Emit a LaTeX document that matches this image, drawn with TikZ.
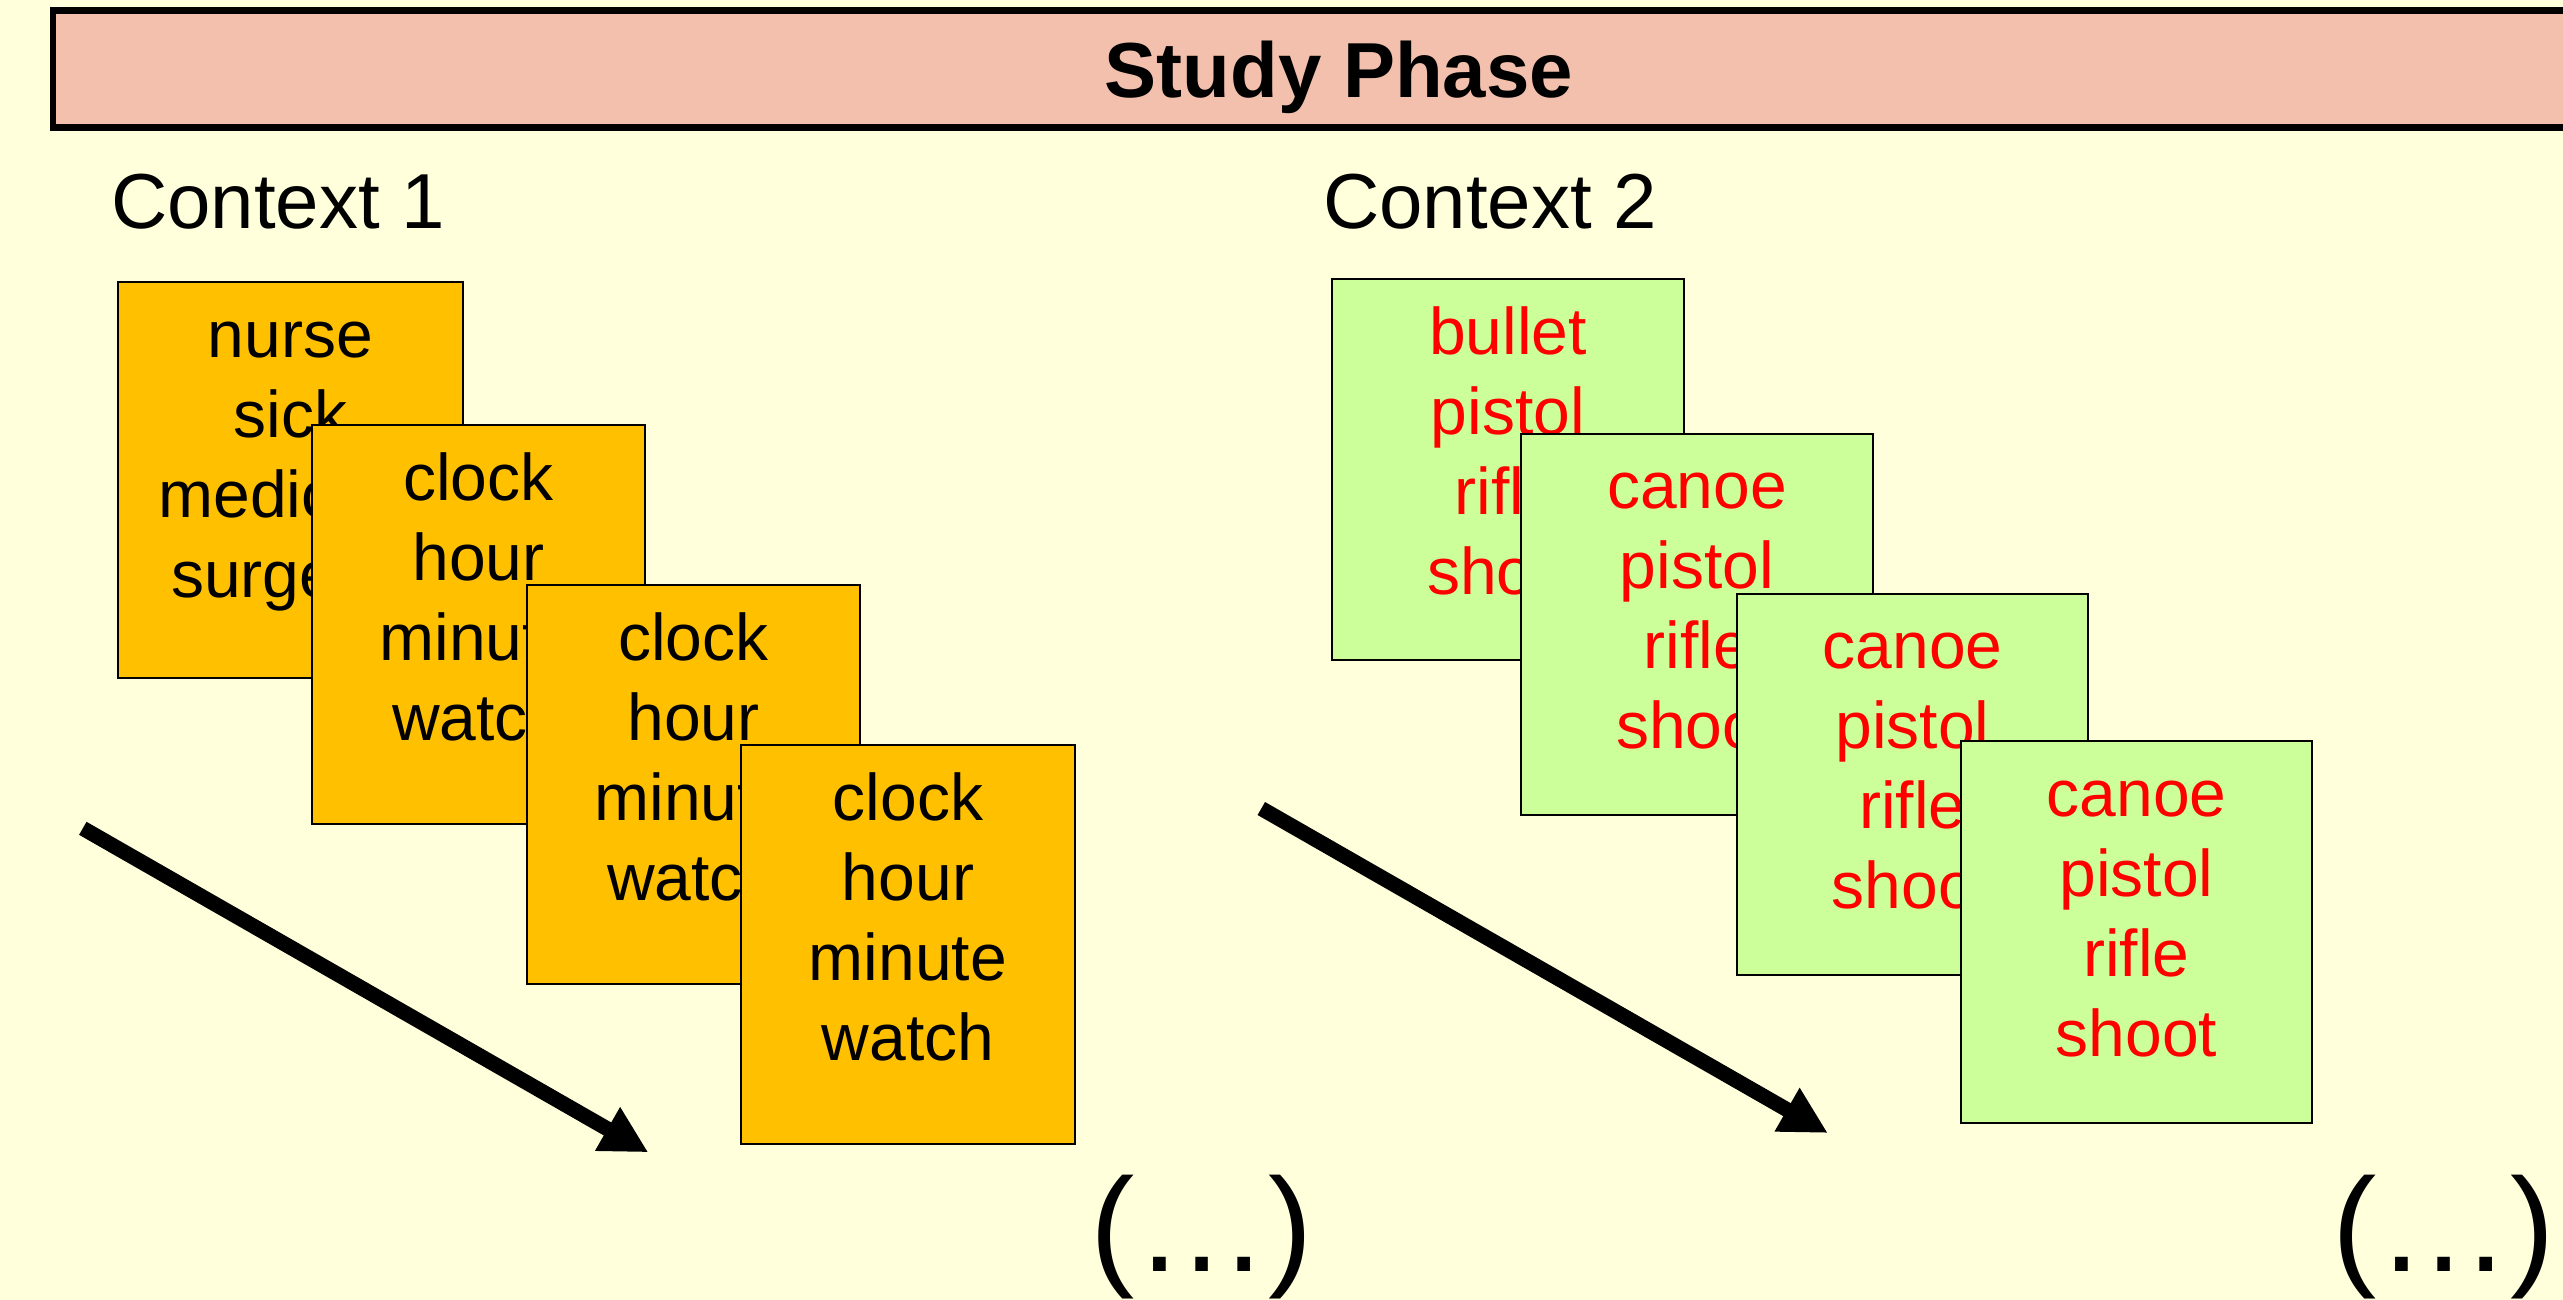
\documentclass[tikz,border=0pt]{standalone}
\usepackage{fontspec}
\setmainfont{Liberation Sans}
\usetikzlibrary{arrows.meta}

\definecolor{paper}{RGB}{255,255,220}
\definecolor{phasebar}{RGB}{242,192,172}
\definecolor{cardorange}{RGB}{255,192,0}
\definecolor{cardgreen}{RGB}{204,255,153}
\definecolor{wordred}{RGB}{255,0,0}

% a card of fixed size: #1 width, #2 height, #3 the words (one per line)
\newcommand\wordlist[3]{%
  \parbox[c][#2][t]{#1}{\centering\fontsize{66}{80}\selectfont\rule{0pt}{75pt}#3\par}}

\begin{document}
\begin{tikzpicture}[x=1pt,y=-1pt,
  card/.style={draw=black,line width=2pt,inner sep=0pt,anchor=north west},
  oldcard/.style={card,fill=cardorange,text=black},
  newcard/.style={card,fill=cardgreen,text=wordred},
  flow/.style={line width=15pt,-{Triangle[length=47pt,width=47pt]}},
  ctx/.style={anchor=base west,inner sep=0pt,font=\fontsize{78}{94}\selectfont},
  more/.style={anchor=base,inner sep=0pt,font=\fontsize{133}{160}\selectfont}]
\useasboundingbox (0,0) rectangle (2563,1300);
\clip (0,0) rectangle (2563,1300);
\fill[paper] (0,0) rectangle (2563,1300);

% heading bar, running off the right edge
\node[draw=black,line width=6.5pt,fill=phasebar,
      minimum width=2572pt,minimum height=117pt,
      text height=58pt,text depth=0pt,
      font=\bfseries\fontsize{78}{94}\selectfont] (phase) at (1339,69) {Study Phase};

% context headings
\node[ctx] (ctx1) at (111,229) {Context 1};
\node[ctx] (ctx2) at (1323,229) {Context 2};

% first context: stacked word lists
\node[oldcard] (o1) at (117,281) {\wordlist{345pt}{396pt}{nurse\\sick\\medicine\\surgeon}};
\node[oldcard] (o2) at (311,424) {\wordlist{333pt}{399pt}{clock\\hour\\minute\\watch}};
\node[oldcard] (o3) at (526,584) {\wordlist{333pt}{399pt}{clock\\hour\\minute\\watch}};
\node[oldcard] (o4) at (740,744) {\wordlist{334pt}{399pt}{clock\\hour\\minute\\watch}};

% second context: stacked word lists
\node[newcard] (n1) at (1331,278) {\wordlist{352pt}{381pt}{bullet\\pistol\\rifle\\shoot}};
\node[newcard] (n2) at (1520,432.5) {\wordlist{352pt}{381pt}{canoe\\pistol\\rifle\\shoot}};
\node[newcard] (n3) at (1736,592.5) {\wordlist{351pt}{381pt}{canoe\\pistol\\rifle\\shoot}};
\node[newcard] (n4) at (1960,740) {\wordlist{351pt}{382pt}{canoe\\pistol\\rifle\\shoot}};

% sequence arrows
\coordinate (f1s) at (82.8,828.3);
\coordinate (f1e) at (648.3,1152.3);
\coordinate (f2s) at (1261.3,808.5);
\coordinate (f2e) at (1827.8,1133);
\draw[flow] (f1s) -- (f1e);
\draw[flow] (f2s) -- (f2e);

% continuation marks
\node[more] (more1) at (1201.5,1271) {(…)};
\node[more] (more2) at (2443.5,1271) {(…)};
\end{tikzpicture}
\end{document}
